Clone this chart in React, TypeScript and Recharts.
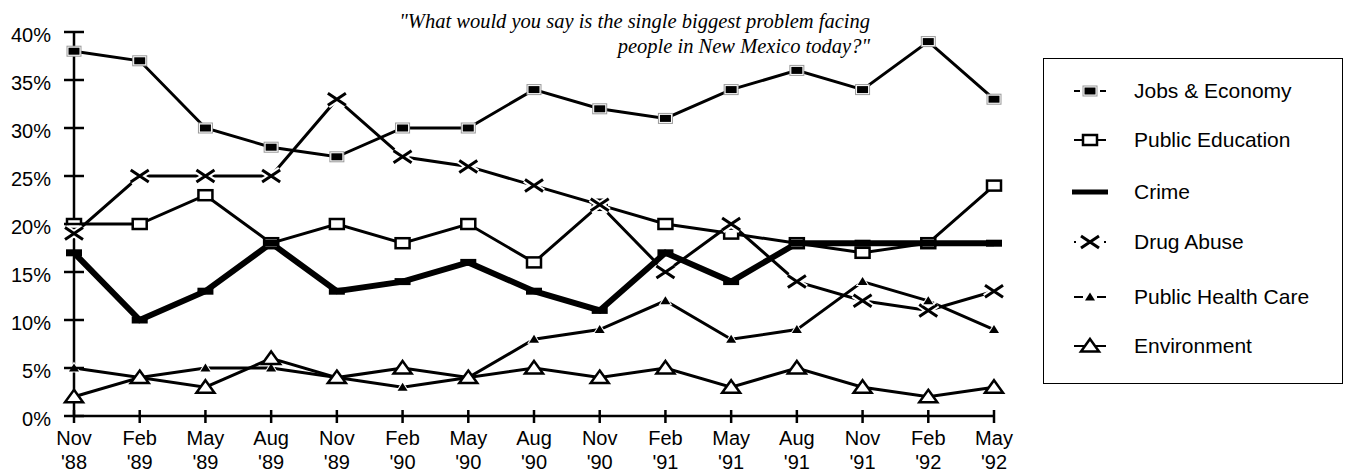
import React from 'react';
import { LineChart, Line, XAxis, YAxis, Legend, Customized } from 'recharts';

const months = ['Nov', 'Feb', 'May', 'Aug', 'Nov', 'Feb', 'May', 'Aug', 'Nov', 'Feb', 'May', 'Aug', 'Nov', 'Feb', 'May'];
const years = ["'88", "'89", "'89", "'89", "'89", "'90", "'90", "'90", "'90", "'91", "'91", "'91", "'91", "'92", "'92"];

const jobsEconomy = [38, 37, 30, 28, 27, 30, 30, 34, 32, 31, 34, 36, 34, 39, 33];
const publicEducation = [20, 20, 23, 18, 20, 18, 20, 16, 22, 20, 19, 18, 17, 18, 24];
const crime = [17, 10, 13, 18, 13, 14, 16, 13, 11, 17, 14, 18, 18, 18, 18];
const drugAbuse = [19, 25, 25, 25, 33, 27, 26, 24, 22, 15, 20, 14, 12, 11, 13];
const publicHealthCare = [5, 4, 5, 5, 4, 3, 4, 8, 9, 12, 8, 9, 14, 12, 9];
const environment = [2, 4, 3, 6, 4, 5, 4, 5, 4, 5, 3, 5, 3, 2, 3];

const yTicks = [0, 5, 10, 15, 20, 25, 30, 35, 40];

const titleLines = ['"What would you say is the single biggest problem facing', 'people in New Mexico today?"'];

const seriesOrder = ['jobs', 'education', 'crime', 'drug', 'health', 'env'];

const data = months.map((m, i) => ({
  period: `${m} ${years[i]}`,
  jobs: jobsEconomy[i],
  education: publicEducation[i],
  crime: crime[i],
  drug: drugAbuse[i],
  health: publicHealthCare[i],
  env: environment[i],
}));

const SANS = '"Liberation Sans", Arial, sans-serif';
const SERIF = '"Liberation Serif", "Times New Roman", serif';

const JobsMark = ({ cx, cy }: { cx: number; cy: number }) => (
  <g>
    <rect x={cx - 7} y={cy - 5} width={14} height={10} fill="#fff" stroke="#999" strokeWidth={1} />
    <rect x={cx - 5.5} y={cy - 3.5} width={11} height={7} fill="#000" />
  </g>
);
const EduMark = ({ cx, cy }: { cx: number; cy: number }) => (
  <rect x={cx - 7} y={cy - 5} width={14} height={10} fill="#fff" stroke="#000" strokeWidth={2.5} />
);
const CrimeMark = ({ cx, cy }: { cx: number; cy: number }) => (
  <rect x={cx - 8} y={cy - 3.5} width={16} height={7} fill="#000" />
);
const DrugMark = ({ cx, cy }: { cx: number; cy: number }) => (
  <g>
    <path d={`M${cx - 9},${cy - 6}L${cx + 9},${cy + 6}M${cx - 9},${cy + 6}L${cx + 9},${cy - 6}`} stroke="#fff" strokeWidth={7} />
    <path d={`M${cx - 9},${cy - 6}L${cx + 9},${cy + 6}M${cx - 9},${cy + 6}L${cx + 9},${cy - 6}`} stroke="#000" strokeWidth={3} />
  </g>
);
const HealthMark = ({ cx, cy }: { cx: number; cy: number }) => (
  <polygon points={`${cx},${cy - 4.5} ${cx + 5},${cy + 3.5} ${cx - 5},${cy + 3.5}`} fill="#000" stroke="#fff" strokeWidth={2} paintOrder="stroke" />
);
const EnvMark = ({ cx, cy }: { cx: number; cy: number }) => (
  <polygon points={`${cx},${cy - 7} ${cx + 9},${cy + 5.5} ${cx - 9},${cy + 5.5}`} fill="#fff" stroke="#000" strokeWidth={2.5} />
);

const dotFor = (Mark: any) => (p: any) => {
  if (p.cx == null || p.cy == null) return <g key={p.key} />;
  return <g key={p.key}><Mark cx={p.cx} cy={p.cy} /></g>;
};

const YTick = (p: any) => {
  const { x, y, payload } = p;
  return (
    <g>
      <line x1={x - 10} x2={x + 10} y1={y} y2={y} stroke="#000" strokeWidth={2.5} />
      <text x={x - 23} y={y + 9.5} textAnchor="end" fontSize={20} fontFamily={SANS} fill="#000">
        {payload.value}%
      </text>
    </g>
  );
};

const XTick = (p: any) => {
  const { x, y, payload } = p;
  const i = payload.index;
  return (
    <g>
      <line x1={x} x2={x} y1={y - 6} y2={y + 7} stroke="#000" strokeWidth={2.5} />
      <text x={x} y={y + 29} textAnchor="middle" fontSize={20} fontFamily={SANS} fill="#000">{months[i]}</text>
      <text x={x} y={y + 53} textAnchor="middle" fontSize={20} fontFamily={SANS} fill="#000">{years[i]}</text>
    </g>
  );
};

const legendIcon = (key: string, cx: number, cy: number) => {
  switch (key) {
    case 'jobs':
      return (<g><line x1={cx - 16} x2={cx + 16} y1={cy} y2={cy} stroke="#000" strokeWidth={2} strokeDasharray="6 20 6" /><JobsMark cx={cx} cy={cy} /></g>);
    case 'education':
      return (<g><line x1={cx - 16} x2={cx + 16} y1={cy} y2={cy} stroke="#000" strokeWidth={2} /><EduMark cx={cx} cy={cy} /></g>);
    case 'crime':
      return (<g><line x1={cx - 18} x2={cx + 18} y1={cy} y2={cy} stroke="#000" strokeWidth={5} /></g>);
    case 'drug':
      return (<g><line x1={cx - 16} x2={cx + 16} y1={cy} y2={cy} stroke="#000" strokeWidth={2} strokeDasharray="2 30" /><line x1={cx + 14} x2={cx + 16} y1={cy} y2={cy} stroke="#000" strokeWidth={2} /><DrugMark cx={cx} cy={cy} /></g>);
    case 'health':
      return (<g><line x1={cx - 16} x2={cx + 16} y1={cy} y2={cy} stroke="#000" strokeWidth={2} strokeDasharray="9 14 9" /><HealthMark cx={cx} cy={cy} /></g>);
    case 'env':
      return (<g><line x1={cx - 16} x2={cx + 16} y1={cy} y2={cy} stroke="#000" strokeWidth={2} /><EnvMark cx={cx} cy={cy} /></g>);
    default:
      return null;
  }
};

const legendRows = [33, 82, 134, 184, 239, 288];

const LegendBox = (props: any) => {
  const payload = [...(props.payload || [])].sort(
    (a: any, b: any) => seriesOrder.indexOf(a.dataKey) - seriesOrder.indexOf(b.dataKey)
  );
  return (
    <svg width={300} height={326} style={{ display: 'block' }}>
      <rect x={0.5} y={0.5} width={299} height={325} fill="#fff" stroke="#000" strokeWidth={1} />
      {payload.map((entry: any, i: number) => (
        <g key={entry.dataKey}>
          {legendIcon(entry.dataKey, 47, legendRows[i])}
          <text x={91} y={legendRows[i] + 7} fontSize={21} fontFamily={SANS} fill="#000">{entry.value}</text>
        </g>
      ))}
    </svg>
  );
};

const Title = () => (
  <g>
    {titleLines.map((t, i) => (
      <text key={i} x={870} y={28 + i * 25} textAnchor="end" fontSize={20.5} fontStyle="italic" fontFamily={SERIF} fill="#000">{t}</text>
    ))}
  </g>
);

export default function App() {
  return (
    <div style={{ position: 'absolute', left: 0, top: 0, width: 1345, height: 474, background: '#fff' }}>
      <LineChart width={1345} height={474} data={data} margin={{ top: 32, right: 351, bottom: 57, left: 73 }}>
        <XAxis dataKey="period" height={1} interval={0} tickSize={0} tickMargin={0} tickLine={false}
          axisLine={{ stroke: '#000', strokeWidth: 2.5 }} tick={<XTick />} />
        <YAxis width={1} domain={[0, 40]} ticks={yTicks} tickSize={0} tickMargin={0} tickLine={false}
          axisLine={{ stroke: '#000', strokeWidth: 2.5 }} tick={<YTick />} allowDataOverflow />
        <Line dataKey="jobs" name="Jobs & Economy" stroke="#000" strokeWidth={3} dot={dotFor(JobsMark)} activeDot={false} isAnimationActive={false} />
        <Line dataKey="education" name="Public Education" stroke="#000" strokeWidth={3} dot={dotFor(EduMark)} activeDot={false} isAnimationActive={false} />
        <Line dataKey="crime" name="Crime" stroke="#000" strokeWidth={6} dot={dotFor(CrimeMark)} activeDot={false} isAnimationActive={false} />
        <Line dataKey="drug" name="Drug Abuse" stroke="#000" strokeWidth={3} dot={dotFor(DrugMark)} activeDot={false} isAnimationActive={false} />
        <Line dataKey="health" name="Public Health Care" stroke="#000" strokeWidth={3} dot={dotFor(HealthMark)} activeDot={false} isAnimationActive={false} />
        <Line dataKey="env" name="Environment" stroke="#000" strokeWidth={3} dot={dotFor(EnvMark)} activeDot={false} isAnimationActive={false} />
        <Legend layout="vertical" align="center" verticalAlign="middle" content={<LegendBox />}
          wrapperStyle={{ position: 'absolute', left: 1043, top: 58, width: 300, height: 326, margin: 0, padding: 0 }} />
        <Customized component={<Title />} />
      </LineChart>
    </div>
  );
}
